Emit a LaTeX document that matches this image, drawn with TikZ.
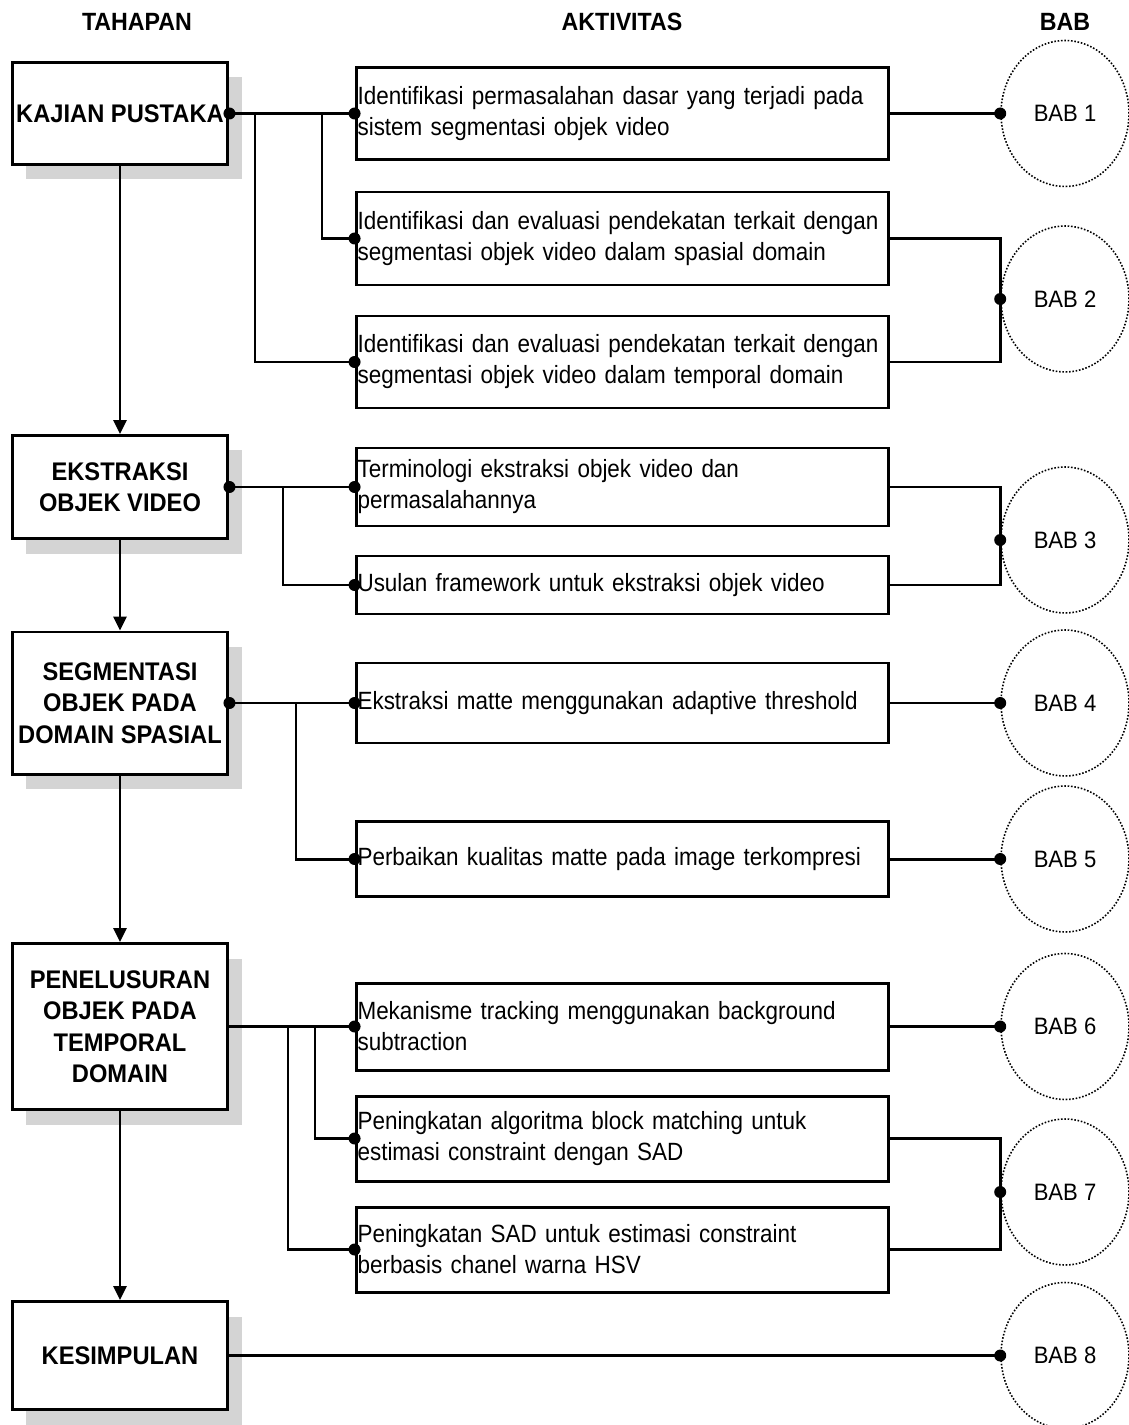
\documentclass[tikz,border=0pt]{standalone}
\usepackage{fontspec}
\setmainfont[FakeStretch=0.93]{Liberation Sans}
\newfontfamily\aktfont[FakeStretch=0.9]{Liberation Sans}
\usetikzlibrary{arrows.meta,shapes.geometric,shadows}
\hyphenpenalty=10000

\tikzset{
  tahapbox/.style={draw, line width=1.7pt, fill=white, minimum width=4.32cm, inner xsep=1pt,
    align=center, font=\fontsize{14.5}{17.9}\selectfont\bfseries,
    drop shadow={shadow xshift=0.28cm, shadow yshift=-0.3cm, fill=black!17, opacity=1}},
  aktbox/.style={draw, line width=1.7pt, text width=10.6cm, inner xsep=0.03cm, align=left,
    font=\aktfont\fontsize{14.2}{17.6}\selectfont},
  babnode/.style={ellipse, draw, densely dotted, line width=0.9pt, minimum width=2.56cm,
    minimum height=2.92cm, font=\fontsize{13.5}{16}\selectfont},
  conn/.style={line width=1.7pt},
  hdr/.style={font=\fontsize{14.2}{16}\selectfont\bfseries}
}

\newcommand{\tahap}[4]{
\node[tahapbox, minimum height=#3*0.02cm] (#1) at (120,#2) {#4};
}
\newcommand{\aktiv}[4]{
\node[aktbox, minimum height=#3*0.02cm] (#1) at (622.5,#2) {#4};
}
\newcommand{\bab}[3]{
\node[babnode] (#1) at (1065,#2) {#3};
}
\newcommand{\titik}[1]{
\fill (#1) circle [radius=0.12cm];
}

\begin{document}
\begin{tikzpicture}[x=0.02cm, y=-0.02cm, >={Triangle[length=0.28cm, width=0.26cm]}]
\useasboundingbox (0,0) rectangle (1128,1425);

\node[hdr] (hdtahap) at (137,22) {TAHAPAN};
\node[hdr] (hdaktiv) at (622,22) {AKTIVITAS};
\node[hdr] (hdbab) at (1065,22) {BAB};

\tahap{kajian}{113.5}{102}{KAJIAN PUSTAKA}
\tahap{ekstraksi}{487}{103}{EKSTRAKSI\\OBJEK VIDEO}
\tahap{segmentasi}{703}{142}{SEGMENTASI\\OBJEK PADA\\DOMAIN SPASIAL}
\tahap{penelusuran}{1026.5}{166}{PENELUSURAN\\OBJEK PADA\\TEMPORAL\\DOMAIN}
\tahap{kesimpulan}{1355.5}{108}{KESIMPULAN}

\aktiv{a1}{113.5}{92}{Identifikasi permasalahan dasar yang terjadi pada\\sistem segmentasi objek video}
\aktiv{a2}{238.5}{93}{Identifikasi dan evaluasi pendekatan terkait dengan\\segmentasi objek video dalam spasial domain}
\aktiv{a3}{362}{92}{Identifikasi dan evaluasi pendekatan terkait dengan\\segmentasi objek video dalam temporal domain}
\aktiv{a4}{487}{78}{Terminologi ekstraksi objek video dan\\permasalahannya}
\aktiv{a5}{585}{58}{Usulan framework untuk ekstraksi objek video}
\aktiv{a6}{703}{80}{Ekstraksi matte menggunakan adaptive threshold}
\aktiv{a7}{859}{75}{Perbaikan kualitas matte pada image terkompresi}
\aktiv{a8}{1026.5}{87}{Mekanisme tracking menggunakan background\\subtraction}
\aktiv{a9}{1138.5}{85}{Peningkatan algoritma block matching untuk\\estimasi constraint dengan SAD}
\aktiv{a10}{1249.5}{85}{Peningkatan SAD untuk estimasi constraint\\berbasis chanel warna HSV}

\bab{bab1}{113.5}{BAB 1}
\bab{bab2}{299}{BAB 2}
\bab{bab3}{540}{BAB 3}
\bab{bab4}{703}{BAB 4}
\bab{bab5}{859}{BAB 5}
\bab{bab6}{1026.5}{BAB 6}
\bab{bab7}{1192}{BAB 7}
\bab{bab8}{1355.5}{BAB 8}

\draw[conn, ->] (kajian) -- (ekstraksi);
\draw[conn, ->] (ekstraksi) -- (segmentasi);
\draw[conn, ->] (segmentasi) -- (penelusuran);
\draw[conn, ->] (penelusuran) -- (kesimpulan);

\coordinate (kj1) at (322,113.5);
\coordinate (kj2) at (255,113.5);
\coordinate (ek1) at (283,487);
\coordinate (sg1) at (296,703);
\coordinate (pn1) at (315,1026.5);
\coordinate (pn2) at (288,1026.5);

\draw[conn] (kajian.east) -- (a1.west);
\draw[conn] (kj1) |- (a2.west);
\draw[conn] (kj2) |- (a3.west);
\draw[conn] (ekstraksi.east) -- (a4.west);
\draw[conn] (ek1) |- (a5.west);
\draw[conn] (segmentasi.east) -- (a6.west);
\draw[conn] (sg1) |- (a7.west);
\draw[conn] (penelusuran.east) -- (a8.west);
\draw[conn] (pn1) |- (a9.west);
\draw[conn] (pn2) |- (a10.west);

\draw[conn] (a1.east) -- (bab1.west);
\draw[conn] (a2.east) -| (bab2.west) |- (a3.east);
\draw[conn] (a4.east) -| (bab3.west) |- (a5.east);
\draw[conn] (a6.east) -- (bab4.west);
\draw[conn] (a7.east) -- (bab5.west);
\draw[conn] (a8.east) -- (bab6.west);
\draw[conn] (a9.east) -| (bab7.west) |- (a10.east);
\draw[conn] (kesimpulan.east) -- (bab8.west);

\titik{kajian.east}
\titik{ekstraksi.east}
\titik{segmentasi.east}
\titik{a1.west}
\titik{a2.west}
\titik{a3.west}
\titik{a4.west}
\titik{a5.west}
\titik{a6.west}
\titik{a7.west}
\titik{a8.west}
\titik{a9.west}
\titik{a10.west}
\titik{bab1.west}
\titik{bab2.west}
\titik{bab3.west}
\titik{bab4.west}
\titik{bab5.west}
\titik{bab6.west}
\titik{bab7.west}
\titik{bab8.west}
% \draw[help lines, step=50] (0,0) grid (1128,1425);
\end{tikzpicture}
\end{document}
